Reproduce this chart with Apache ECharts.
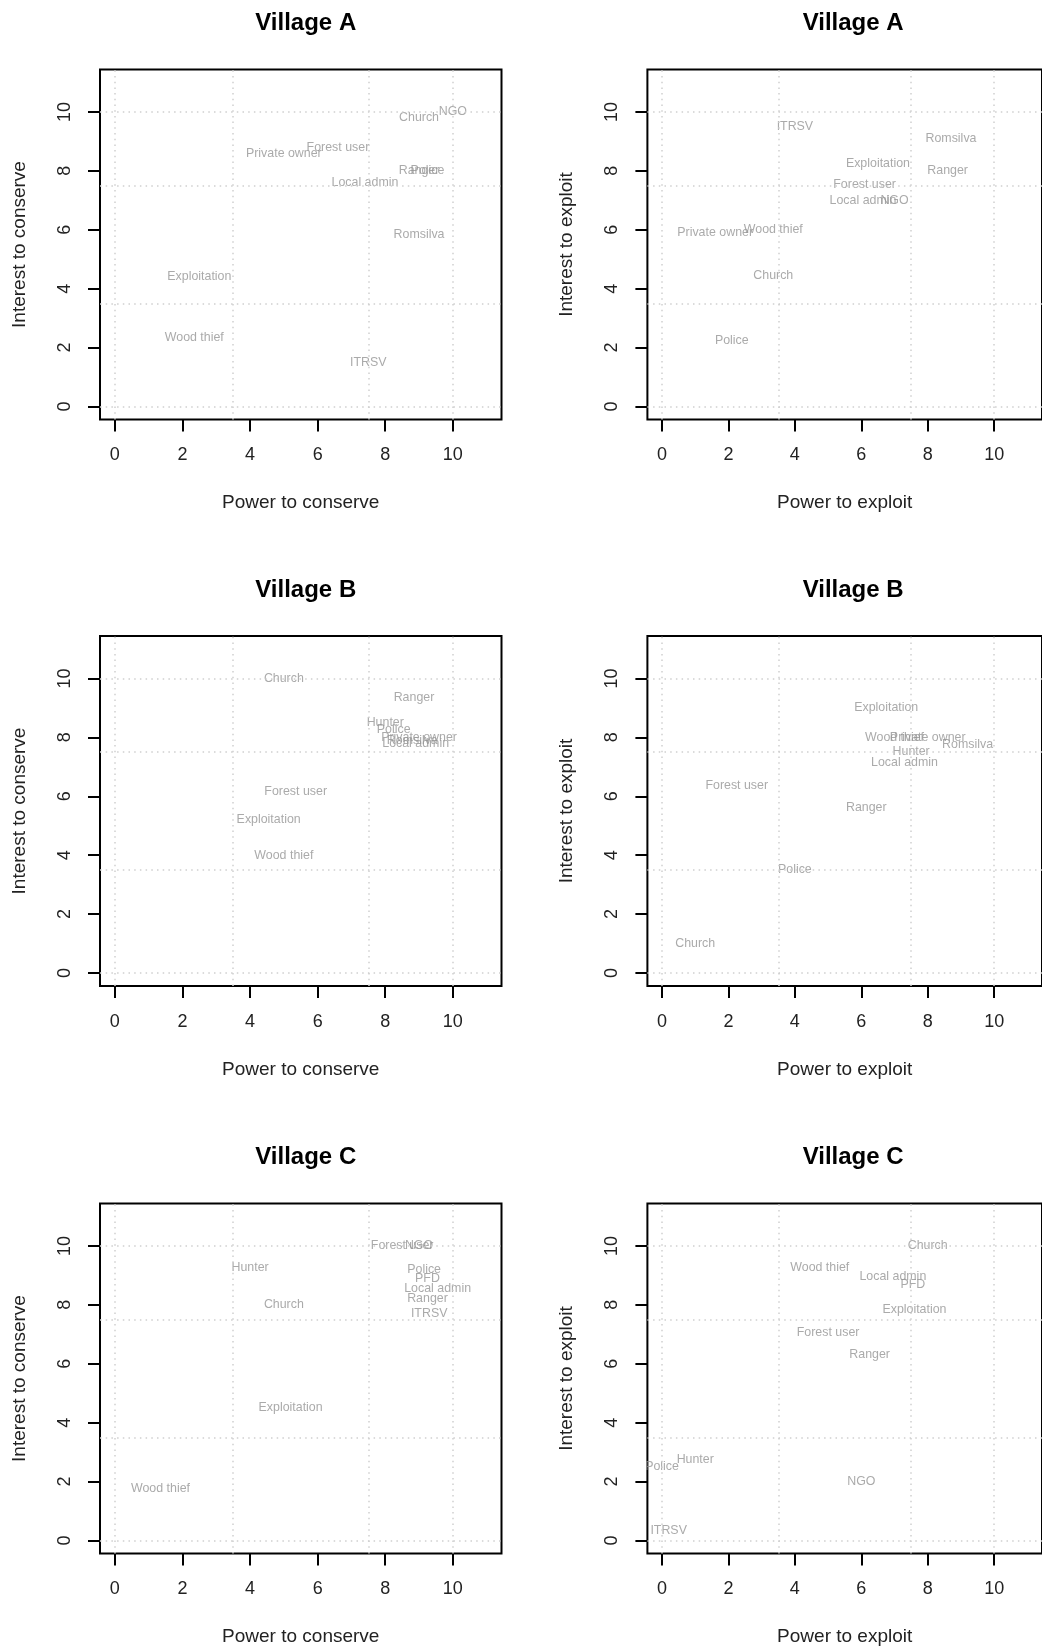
<!DOCTYPE html>
<html>
<head>
<meta charset="utf-8">
<script src="https://cdn.jsdelivr.net/npm/echarts@6/dist/echarts.min.js"></script>
<style>
  html, body { margin: 0; padding: 0; background: #fff; }
  #chart { width: 1042px; height: 1648px; }
</style>
</head>
<body>
<div id="chart"></div>
<script>
// tick labels and reference lines
var tickVals = [0, 2, 4, 6, 8, 10];
var refLines = [0, 3.5, 7.5, 10];

// Village A - conserve
var aConsNames = ['Church', 'NGO', 'Private owner', 'Forest user', 'Ranger', 'Police', 'Local admin', 'Romsilva', 'Exploitation', 'Wood thief', 'ITRSV'];
var aConsPower = [9, 10, 5, 6.6, 9, 9.25, 7.4, 9, 2.5, 2.35, 7.5];
var aConsInterest = [9.8, 10, 8.6, 8.8, 8, 8, 7.6, 5.85, 4.4, 2.35, 1.5];

// Village A - exploit
var aExplNames = ['ITRSV', 'Romsilva', 'Exploitation', 'Ranger', 'Forest user', 'Local admin', 'NGO', 'Private owner', 'Wood thief', 'Church', 'Police'];
var aExplPower = [4, 8.7, 6.5, 8.6, 6.1, 6.05, 7, 1.6, 3.35, 3.35, 2.1];
var aExplInterest = [9.5, 9.1, 8.25, 8, 7.55, 7, 7, 5.9, 6, 4.45, 2.25];

// Village B - conserve
var bConsNames = ['Church', 'Ranger', 'Hunter', 'Police', 'Private owner', 'Romsilva', 'Local admin', 'Forest user', 'Exploitation', 'Wood thief'];
var bConsPower = [5, 8.85, 8, 8.25, 9, 8.8, 8.9, 5.35, 4.55, 5];
var bConsInterest = [10, 9.35, 8.5, 8.25, 8, 7.9, 7.8, 6.15, 5.2, 4];

// Village B - exploit
var bExplNames = ['Exploitation', 'Wood thief', 'Private owner', 'Romsilva', 'Hunter', 'Local admin', 'Forest user', 'Ranger', 'Police', 'Church'];
var bExplPower = [6.75, 7, 8, 9.2, 7.5, 7.3, 2.25, 6.15, 4, 1];
var bExplInterest = [9, 8, 8, 7.75, 7.5, 7.15, 6.35, 5.6, 3.5, 1];

// Village C - conserve
var cConsNames = ['Forest user', 'NGO', 'Hunter', 'Police', 'PFD', 'Local admin', 'Ranger', 'ITRSV', 'Church', 'Exploitation', 'Wood thief'];
var cConsPower = [8.5, 9, 4, 9.15, 9.25, 9.55, 9.25, 9.3, 5, 5.2, 1.35];
var cConsInterest = [10, 10, 9.25, 9.2, 8.9, 8.55, 8.2, 7.7, 8, 4.5, 1.75];

// Village C - exploit
var cExplNames = ['Church', 'Wood thief', 'Local admin', 'PFD', 'Exploitation', 'Forest user', 'Ranger', 'Hunter', 'Police', 'NGO', 'ITRSV'];
var cExplPower = [8, 4.75, 6.95, 7.55, 7.6, 5, 6.25, 1, 0, 6, 0.2];
var cExplInterest = [10, 9.25, 8.95, 8.7, 7.85, 7.05, 6.3, 2.75, 2.5, 2, 0.35];

var panels = [
    {title: 'Village A', xName: 'Power to conserve', yName: 'Interest to conserve', names: aConsNames, x: aConsPower, y: aConsInterest},
    {title: 'Village A', xName: 'Power to exploit', yName: 'Interest to exploit', names: aExplNames, x: aExplPower, y: aExplInterest},
    {title: 'Village B', xName: 'Power to conserve', yName: 'Interest to conserve', names: bConsNames, x: bConsPower, y: bConsInterest},
    {title: 'Village B', xName: 'Power to exploit', yName: 'Interest to exploit', names: bExplNames, x: bExplPower, y: bExplInterest},
    {title: 'Village C', xName: 'Power to conserve', yName: 'Interest to conserve', names: cConsNames, x: cConsPower, y: cConsInterest},
    {title: 'Village C', xName: 'Power to exploit', yName: 'Interest to exploit', names: cExplNames, x: cExplPower, y: cExplInterest}
];

var FONT = 'Liberation Sans, Arial, sans-serif';
var colLeft = [100, 647.4];
var boxW = 401.5;
var rowTop = [69.5, 636, 1203.5];
var boxH = 350;

var grids = [], xAxes = [], yAxes = [], series = [], titles = [];

panels.forEach(function (p, i) {
    var col = i % 2, row = Math.floor(i / 2);
    var left = colLeft[col], top = rowTop[row];

    grids.push({
        left: left, top: top, width: boxW, height: boxH,
        show: true, borderColor: '#000', borderWidth: 2, backgroundColor: '#fff',
        containLabel: false
    });

    titles.push({
        text: p.title,
        left: left + boxW / 2,
        top: top - 63,
        textAlign: 'center',
        textStyle: {fontFamily: FONT, fontSize: 24, fontWeight: 'bold', color: '#000'}
    });

    xAxes.push({
        gridIndex: i, type: 'value', min: -0.44, max: 11.44,
        name: p.xName, nameLocation: 'middle', nameGap: 74,
        nameTextStyle: {fontFamily: FONT, fontSize: 19, color: '#222'},
        axisLine: {show: false, onZero: false},
        axisTick: {show: true, inside: false, length: 12, customValues: tickVals,
                   lineStyle: {color: '#000', width: 2}},
        axisLabel: {show: true, customValues: tickVals, margin: 27,
                    fontFamily: FONT, fontSize: 18, color: '#222'},
        splitLine: {show: false}
    });

    yAxes.push({
        gridIndex: i, type: 'value', min: -0.44, max: 11.44,
        name: p.yName, nameLocation: 'middle', nameGap: 71, nameRotate: 90,
        nameTextStyle: {fontFamily: FONT, fontSize: 19, color: '#222'},
        axisLine: {show: false, onZero: false},
        axisTick: {show: true, inside: false, length: 12, customValues: tickVals,
                   lineStyle: {color: '#000', width: 2}},
        axisLabel: {show: true, customValues: tickVals, margin: 26, rotate: 90,
                    fontFamily: FONT, fontSize: 18, color: '#222'},
        splitLine: {show: false}
    });

    var pts = p.names.map(function (n, k) { return [p.x[k], p.y[k], n]; });
    var lines = refLines.map(function (v) { return {xAxis: v}; })
        .concat(refLines.map(function (v) { return {yAxis: v}; }));

    series.push({
        type: 'scatter',
        xAxisIndex: i, yAxisIndex: i,
        data: pts,
        symbolSize: 1,
        itemStyle: {color: 'rgba(0,0,0,0)'},
        label: {
            show: true, position: 'inside',
            formatter: function (d) { return d.value[2]; },
            fontFamily: FONT, fontSize: 12.4, color: '#959595'
        },
        labelLayout: {hideOverlap: false},
        markLine: {
            silent: true, symbol: 'none', animation: false,
            label: {show: false},
            lineStyle: {color: '#cfcfcf', width: 1.5, type: [1.5, 4.2]},
            data: lines
        },
        animation: false
    });
});

var myChart = echarts.init(document.getElementById('chart'), null, {renderer: 'canvas'});
myChart.setOption({
    backgroundColor: '#fff',
    animation: false,
    title: titles,
    grid: grids,
    xAxis: xAxes,
    yAxis: yAxes,
    series: series
});
</script>
</body>
</html>
